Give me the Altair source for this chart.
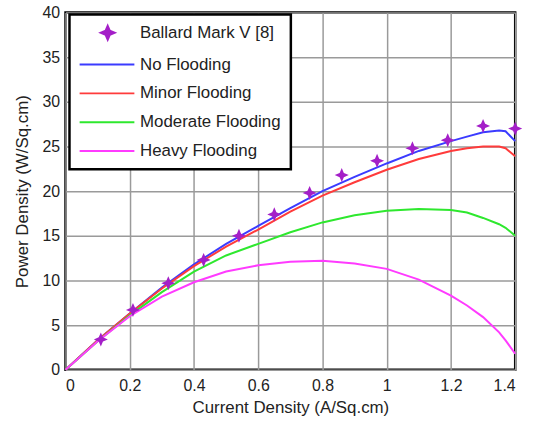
import altair as alt
import pandas as pd

# ---- data ----
series_names = ["Ballard Mark V [8]", "No Flooding", "Minor Flooding",
                "Moderate Flooding", "Heavy Flooding"]
series_colors = ["#a41fc8", "#3b3bff", "#ff3b3b", "#2ee82e", "#ff3bff"]

ballard_x = [0.11, 0.21, 0.32, 0.43, 0.54, 0.65, 0.76, 0.86, 0.97, 1.08, 1.19, 1.30, 1.40]
ballard_y = [3.4, 6.7, 9.7, 12.3, 15.0, 17.4, 19.8, 21.8, 23.4, 24.8, 25.7, 27.3, 27.0]

curve_x = [0.0, 0.1, 0.2, 0.3, 0.4, 0.5, 0.6, 0.7, 0.8, 0.9, 1.0, 1.1, 1.2, 1.25, 1.3, 1.35, 1.37, 1.4]
no_flooding = [0.0, 3.3, 6.3, 9.2, 11.8, 14.1, 16.1, 18.1, 20.0, 21.6, 23.1, 24.5, 25.6, 26.1, 26.6, 26.8, 26.7, 25.6]
minor_flooding = [0.0, 3.3, 6.3, 9.1, 11.6, 13.8, 15.7, 17.7, 19.5, 21.0, 22.4, 23.6, 24.5, 24.8, 25.0, 25.0, 24.8, 23.9]
moderate_flooding = [0.0, 3.2, 6.1, 8.7, 11.0, 12.8, 14.1, 15.4, 16.5, 17.3, 17.8, 18.0, 17.9, 17.6, 17.0, 16.3, 15.9, 15.0]
heavy_flooding = [0.0, 3.2, 6.0, 8.2, 9.8, 11.0, 11.7, 12.1, 12.2, 11.9, 11.3, 10.1, 8.3, 7.2, 5.9, 4.2, 3.3, 1.8]

x_ticks = [0, 0.2, 0.4, 0.6, 0.8, 1.0, 1.2, 1.4]
y_ticks = [0, 5, 10, 15, 20, 25, 30, 35, 40]

# ---- tables ----
curves = {
    "No Flooding": no_flooding,
    "Minor Flooding": minor_flooding,
    "Moderate Flooding": moderate_flooding,
    "Heavy Flooding": heavy_flooding,
}
rows = []
for name, ys in curves.items():
    for i, (xv, yv) in enumerate(zip(curve_x, ys)):
        rows.append({"series": name, "x": xv, "y": yv, "order": i})
df_lines = pd.DataFrame(rows)
df_pts = pd.DataFrame({"series": series_names[0], "x": ballard_x, "y": ballard_y})

# marker shape and legend line segment (unit-square SVG paths)
star = "M0,-1L0.3,-0.3L1,0L0.3,0.3L0,1L-0.3,0.3L-1,0L-0.3,-0.3Z"
seg = "M-4,0L3.8,0"

FONT = "Liberation Sans"
color_scale = alt.Scale(domain=series_names, range=series_colors)
first = series_names[0]

x_enc = alt.X("x:Q", scale=alt.Scale(domain=[0, 1.4], nice=False),
              axis=alt.Axis(values=x_ticks, labelPadding=8,
                            labelExpr="datum.value == 0 ? '0' : datum.value == 1 ? '1' : format(datum.value, '.1f')",
                            title="Current Density (A/Sq.cm)"))
y_enc = alt.Y("y:Q", scale=alt.Scale(domain=[0, 40], nice=False),
              axis=alt.Axis(values=y_ticks, title="Power Density (W/Sq.cm)"))

legend = alt.Legend(
    title=None,
    symbolType={"expr": f"datum.value == '{first}' ? '{star}' : '{seg}'"},
    symbolFillColor={"expr": f"datum.value == '{first}' ? '{series_colors[0]}' : 'transparent'"},
)

lines = alt.Chart(df_lines).mark_line(strokeWidth=2).encode(
    x=x_enc, y=y_enc, order="order:Q",
    color=alt.Color("series:N", scale=color_scale, legend=legend),
)

points = alt.Chart(df_pts).mark_point(filled=True, size=200, opacity=1, shape=star).encode(
    x=x_enc, y=y_enc,
    color=alt.Color("series:N", scale=color_scale, legend=None),
)

chart = alt.layer(lines, points).properties(
    width=453, height=360,
    padding={"left": 14, "top": 3, "right": 18, "bottom": 5},
).configure_view(
    stroke="black", strokeWidth=2.5
).configure_axis(
    labelFont=FONT, labelFontSize=16, labelColor="#222",
    titleFont=FONT, titleFontSize=17, titleFontWeight="normal", titleColor="#222",
    gridColor="#9a9a9a", gridWidth=1.5, domain=False,
    ticks=False, labelPadding=6,
).configure_axisY(titlePadding=10).configure_axisX(titlePadding=6).configure_legend(
    orient="none", legendX=4, legendY=2,
    strokeColor="black", fillColor="white", padding=10, strokeWidth=2.5,
    labelFont=FONT, labelFontSize=17, labelColor="#222", labelOffset=24,
    symbolSize=200, symbolOffset=20, rowPadding=11, symbolOpacity=1, symbolStrokeWidth=2,
)

chart.save("out.html", embed_options={"renderer": "svg", "actions": False})
